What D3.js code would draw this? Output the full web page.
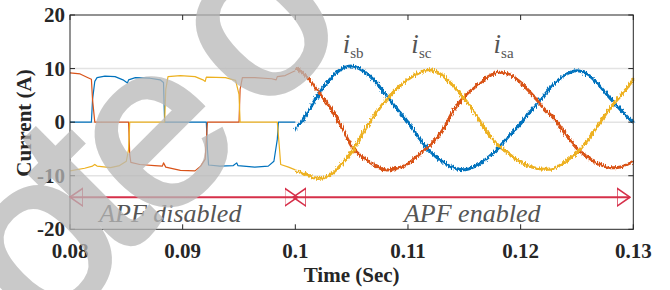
<!DOCTYPE html>
<html lang="en">
<head>
<meta charset="UTF-8">
<title>Source currents, APF disabled / enabled</title>
<script src="https://d3js.org/d3.v7.min.js"></script>
<style>
  body { margin: 0; background: #fff; }
  svg { display: block; }
  text.serif { font-family: "Liberation Serif", Tinos, "Times New Roman", Times, "DejaVu Serif", serif; }
  .tick-label { font-weight: bold; font-size: 21px; fill: #262626; }
  .axis-title { font-weight: bold; font-size: 21px; fill: #262626; }
  .note { font-style: italic; font-size: 26px; fill: #555; }
  .phase-label { fill: #555; }
</style>
</head>
<body>
<svg width="670" height="290"></svg>
<script>
const width = 670;
const height = 290;

// ---- data ----
const xTicks = [0.08, 0.09, 0.1, 0.11, 0.12, 0.13];
const xTickLabels = ["0.08", "0.09", "0.1", "0.11", "0.12", "0.13"];
const yTicks = [-20, -10, 0, 10, 20];
const gridValues = [-10, 0, 10];

// APF disabled (t in s, current in A)
const preA = [[0.0800, 9.2], [0.0809, 9.0], [0.0816, 8.3], [0.0819, 8.0], [0.0820, 4.2], [0.0822, 0],
  [0.0852, 0], [0.0853, -6.0], [0.0854, -7.5], [0.0862, -7.9], [0.0875, -8.1], [0.0882, -8.2],
  [0.0883, -7.6], [0.0885, -8.4], [0.0898, -9.0], [0.0911, -9.1], [0.0916, -8.2], [0.0920, -6.9],
  [0.0922, 0], [0.0950, 0], [0.0951, 6.1], [0.0953, 8.3], [0.0964, 8.3], [0.0979, 8.1],
  [0.0983, 7.9], [0.0984, 8.5], [0.0991, 8.7], [0.0997, 9.3], [0.1000, 9.6]];
const preB = [[0.0800, 0], [0.0819, 0], [0.0820, 4.2], [0.0822, 7.6], [0.0824, 8.3], [0.0831, 8.6],
  [0.0840, 8.5], [0.0847, 7.9], [0.0851, 7.3], [0.0852, 7.9], [0.0858, 8.3], [0.0871, 8.2],
  [0.0880, 7.9], [0.0883, 7.4], [0.0884, 0], [0.0921, 0], [0.0922, -5.1], [0.0923, -8.0],
  [0.0933, -8.2], [0.0945, -8.1], [0.0948, -7.6], [0.0949, -8.1], [0.0964, -8.4], [0.0976, -8.2],
  [0.0981, -7.3], [0.0984, -3.2], [0.0985, 0], [0.1000, 0]];
const preC = [[0.0800, -9.1], [0.0813, -8.6], [0.0820, -8.2], [0.0822, -7.9], [0.0824, -8.2],
  [0.0836, -8.5], [0.0844, -8.1], [0.0850, -7.3], [0.0852, -5.1], [0.0853, 0], [0.0884, 0],
  [0.0885, 6.1], [0.0887, 8.5], [0.0898, 8.7], [0.0911, 8.5], [0.0918, 7.9], [0.0920, 7.6],
  [0.0921, 8.4], [0.0938, 8.3], [0.0947, 7.8], [0.0950, 5.2], [0.0951, 0], [0.0984, 0],
  [0.0986, -5.1], [0.0987, -7.9], [0.0994, -8.4], [0.1000, -8.9]];

// APF enabled
const postTime = [0.100, 0.101, 0.102, 0.103, 0.104, 0.105, 0.106, 0.107, 0.108, 0.109, 0.110,
  0.111, 0.112, 0.113, 0.114, 0.115, 0.116, 0.117, 0.118, 0.119, 0.120,
  0.121, 0.122, 0.123, 0.124, 0.125, 0.126, 0.127, 0.128, 0.129, 0.130];
const postA = [10.2, 8.5, 5.8, 3.0, -0.4, -4.5, -6.6, -8.0, -8.9, -8.6, -7.8,
  -6.0, -4.2, -1.7, 2.0, 4.8, 6.6, 8.3, 9.3, 8.9, 7.4,
  5.2, 2.7, 0.6, -2.3, -4.9, -6.6, -7.9, -8.5, -8.3, -7.3];
const postB = [-1.4, 1.5, 5.0, 7.8, 9.8, 10.5, 9.6, 7.8, 5.2, 2.5, 0.0,
  -3.0, -5.5, -7.3, -8.5, -8.9, -8.2, -6.8, -4.9, -2.5, -0.3,
  2.3, 4.8, 7.2, 8.9, 9.6, 8.8, 6.8, 4.3, 2.0, -0.1];
const postC = [-9.0, -9.8, -10.5, -10.0, -8.1, -5.6, -2.0, 1.2, 4.0, 6.2, 8.0,
  9.2, 9.8, 8.8, 6.8, 4.4, 1.5, -1.8, -4.3, -6.0, -7.5,
  -8.4, -8.8, -8.6, -7.3, -5.7, -3.2, -0.2, 2.8, 5.2, 8.0];

const phaseLabels = [
  { main: "i", sub: "sb", t: 0.1042, v: 12.9 },
  { main: "i", sub: "sc", t: 0.1103, v: 12.9 },
  { main: "i", sub: "sa", t: 0.1176, v: 12.9 }
];
const spans = [
  { text: "APF disabled", from: 0.08, to: 0.1002, textT: 0.0889 },
  { text: "APF enabled", from: 0.0998, to: 0.1297, textT: 0.1157 }
];
const spanLevel = -14;
const noteLevel = -18.6;

const watermark = ["o", "t", "e", "o"];

const colorA = "#D95319", colorB = "#0072BD", colorC = "#EDB120";
const red = "#D6304A";

// ---- drawing ----
const svg = d3.select("svg");
const x = d3.scaleLinear().domain([0.08, 0.13]).range([70, 633.3]);
const y = d3.scaleLinear().domain([-20, 20]).range([229.3, 15]);

const defs = svg.append("defs");
const f = defs.append("filter").attr("id", "noise")
  .attr("filterUnits", "userSpaceOnUse")
  .attr("x", 280).attr("y", 40).attr("width", 370).attr("height", 160);
f.append("feTurbulence").attr("type", "fractalNoise")
  .attr("baseFrequency", "1.1 0.2").attr("numOctaves", 2).attr("seed", 3).attr("result", "n");
f.append("feDisplacementMap").attr("in", "SourceGraphic").attr("in2", "n")
  .attr("scale", 5).attr("xChannelSelector", "R").attr("yChannelSelector", "G");

const marker = (id, dir) => {
  const m = defs.append("marker").attr("id", id)
    .attr("viewBox", "0 -10 14 20").attr("refX", 13).attr("refY", 0)
    .attr("markerWidth", 14).attr("markerHeight", 20)
    .attr("markerUnits", "userSpaceOnUse").attr("orient", dir);
  m.append("path").attr("d", "M0,-9L13,0L0,9Z")
    .attr("fill", "none").attr("stroke", red).attr("stroke-width", 1.6);
};
marker("arrEnd", "auto");
marker("arrStart", "auto-start-reverse");

// grid
svg.append("g").selectAll("line").data(gridValues).join("line")
  .attr("x1", x(0.08)).attr("x2", x(0.13))
  .attr("y1", d => y(d)).attr("y2", d => y(d))
  .attr("stroke", "#e3e3e3").attr("stroke-width", 1.5);

// series
const line = d3.line().x(d => x(d[0])).y(d => y(d[1]));
const curve = d3.line().x(d => x(d[0])).y(d => y(d[1])).curve(d3.curveCatmullRom);
const plot = svg.append("g");
[[preB, colorB], [preA, colorA], [preC, colorC]].forEach(([s, c]) => {
  plot.append("path").attr("d", line(s)).attr("fill", "none")
    .attr("stroke", c).attr("stroke-width", 1.2).attr("stroke-linejoin", "round");
});
[[postB, colorB], [postA, colorA], [postC, colorC]].forEach(([s, c]) => {
  const pts = postTime.map((t, i) => [t, s[i]]);
  plot.append("path").attr("d", curve(pts)).attr("fill", "none")
    .attr("stroke", c).attr("stroke-width", 3).attr("filter", "url(#noise)");
});

// frame + ticks
const frame = svg.append("g").attr("stroke", "#262626").attr("fill", "none");
frame.append("rect").attr("x", x(0.08)).attr("y", y(20))
  .attr("width", x(0.13) - x(0.08)).attr("height", y(-20) - y(20)).attr("stroke-width", 1);
xTicks.forEach(t => {
  frame.append("line").attr("x1", x(t)).attr("x2", x(t)).attr("y1", y(-20)).attr("y2", y(-20) - 5);
  frame.append("line").attr("x1", x(t)).attr("x2", x(t)).attr("y1", y(20)).attr("y2", y(20) + 5);
});
yTicks.forEach(v => {
  frame.append("line").attr("x1", x(0.08)).attr("x2", x(0.08) + 5).attr("y1", y(v)).attr("y2", y(v));
  frame.append("line").attr("x1", x(0.13)).attr("x2", x(0.13) - 5).attr("y1", y(v)).attr("y2", y(v));
});

svg.append("g").selectAll("text").data(xTicks).join("text")
  .attr("class", "serif tick-label").attr("text-anchor", "middle")
  .attr("x", d => x(d)).attr("y", 258)
  .text((d, i) => xTickLabels[i]);
svg.append("g").selectAll("text").data(yTicks).join("text")
  .attr("class", "serif tick-label").attr("text-anchor", "end")
  .attr("x", 65).attr("y", d => y(d) + 7)
  .text(d => d);

svg.append("text").attr("class", "serif axis-title").attr("text-anchor", "middle")
  .attr("x", (x(0.08) + x(0.13)) / 2).attr("y", 282).text("Time (Sec)");
svg.append("text").attr("class", "serif axis-title").attr("text-anchor", "middle")
  .attr("transform", `translate(31,123) rotate(-90)`).text("Current (A)");

// spans
spans.forEach(s => {
  svg.append("line").attr("x1", x(s.from)).attr("x2", x(s.to))
    .attr("y1", y(spanLevel)).attr("y2", y(spanLevel))
    .attr("stroke", red).attr("stroke-width", 2)
    .attr("marker-start", "url(#arrStart)").attr("marker-end", "url(#arrEnd)");
  svg.append("text").attr("class", "serif note").attr("text-anchor", "middle")
    .attr("x", x(s.textT)).attr("y", y(noteLevel)).text(s.text);
});

// phase labels
phaseLabels.forEach(p => {
  const t = svg.append("text").attr("class", "serif phase-label")
    .attr("x", x(p.t)).attr("y", y(p.v));
  t.append("tspan").attr("font-style", "italic").attr("font-size", 27).text(p.main);
  t.append("tspan").attr("font-size", 15).attr("dy", 5).text(p.sub);
});

// watermark, one glyph at a time (centres)
const wmCentres = [[46, 252], [84, 186], [160, 142], [262, 30]];
const wm = svg.append("g").attr("opacity", 0.75);
watermark.forEach((ch, i) => {
  wm.append("text")
    .attr("transform", `translate(${wmCentres[i][0]},${wmCentres[i][1]}) rotate(-45)`)
    .attr("text-anchor", "middle").attr("y", ch === "t" ? 78 : 62)
    .attr("font-family", "Liberation Sans, Arial, sans-serif").attr("font-size", 235)
    .attr("fill", "#b8b8b8").attr("stroke", "#b8b8b8").attr("stroke-width", 5)
    .text(ch);
});
</script>
</body>
</html>
